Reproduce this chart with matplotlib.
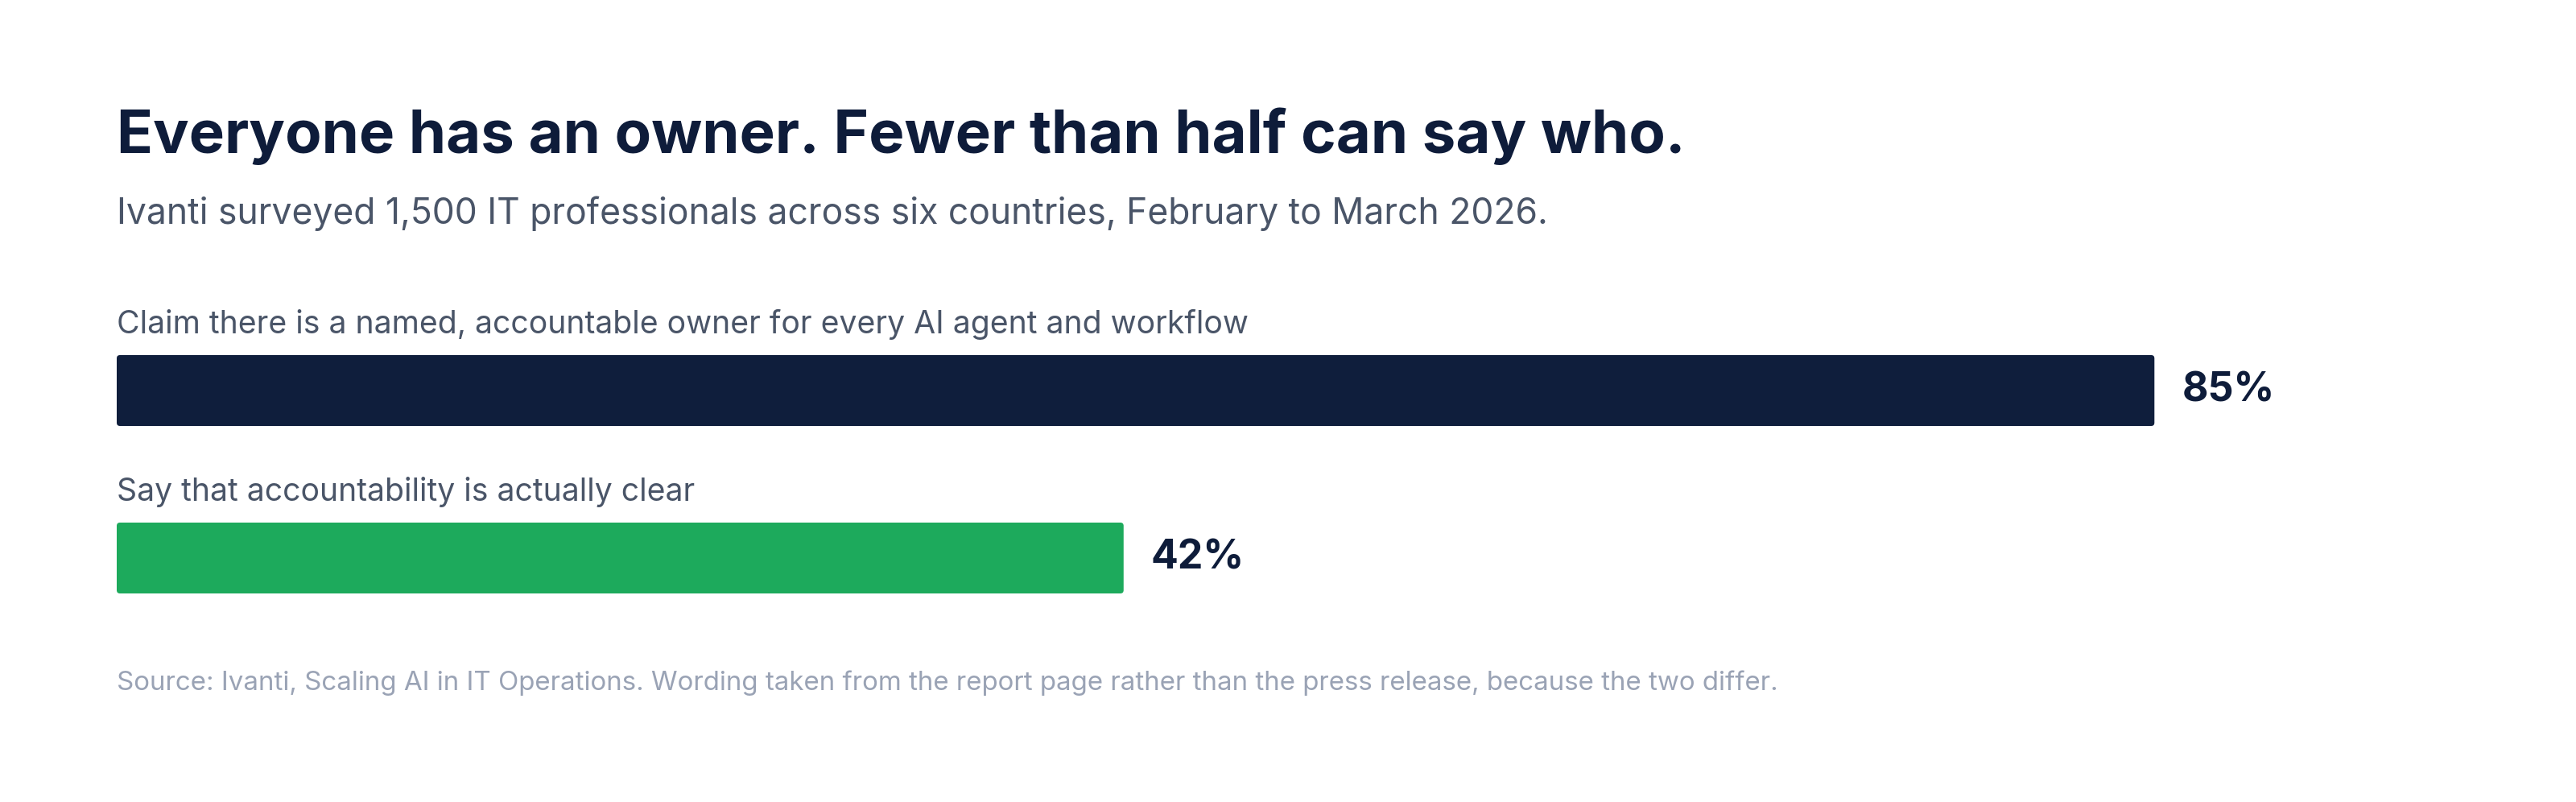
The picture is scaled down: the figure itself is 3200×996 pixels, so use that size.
import matplotlib
matplotlib.use("Agg")
import matplotlib.pyplot as plt
from matplotlib.patches import FancyBboxPatch

plt.rcParams['font.family'] = ['Inter', 'DejaVu Sans']

# data
labels = ["Claim there is a named, accountable owner for every AI agent and workflow",
          "Say that accountability is actually clear"]
values = [85, 42]
value_text = ["85%", "42%"]
colors = ["#0F1E3C", "#1DAA5C"]

title = "Everyone has an owner. Fewer than half can say who."
subtitle = "Ivanti surveyed 1,500 IT professionals across six countries, February to March 2026."
source = ("Source: Ivanti, Scaling AI in IT Operations. Wording taken from the report page "
          "rather than the press release, because the two differ.")

W, H = 3200, 996
fig = plt.figure(figsize=(W / 100, H / 100), dpi=100)
fig.patch.set_facecolor("white")

left = 145 / W
fig.text(left, 1 - 190 / H, title, fontsize=53.5, fontweight="bold", color="#0E1C3A",
         va="baseline", ha="left")
fig.text(left, 1 - 278 / H, subtitle, fontsize=32, color="#4A5568",
         va="baseline", ha="left")
fig.text(left, 1 - 857 / H, source, fontsize=23.8, color="#9AA3B5",
         va="baseline", ha="left")

# bar area: top of first bar to bottom of second bar
h = 88 / 208
top_px, bot_px = 441, 737
ax_w = 2978
ax = fig.add_axes([left, 1 - bot_px / H, ax_w / W, (bot_px - top_px) / H])
ax.set_xlim(0, 100)
ax.set_ylim(1 + h / 2, -h / 2)
ax.axis("off")

ys = list(range(len(values)))
bars = ax.barh(ys, values, height=h, color=colors, left=0)
# swap the plain rectangles for slightly rounded ones
x_px = ax_w / 100
y_px = 208
for b in bars:
    b.set_visible(False)
    r = FancyBboxPatch((b.get_x(), b.get_y()), b.get_width(), b.get_height(),
                       boxstyle="round,pad=0,rounding_size=%f" % (4 / x_px),
                       mutation_aspect=x_px / y_px,
                       facecolor=b.get_facecolor(), edgecolor="none")
    ax.add_patch(r)

for y, v, t, lab in zip(ys, values, value_text, labels):
    ax.text(0, y - h / 2 - 27 / 208, lab, fontsize=28.2, color="#4A5568",
            va="baseline", ha="left", clip_on=False)
    ax.annotate(t, (v, y), xytext=(24.5, 0), textcoords="offset points",
                fontsize=36, fontweight="bold", color="#0E1C3A",
                va="center", ha="left")

fig.savefig("out.png", dpi=100, facecolor="white")
